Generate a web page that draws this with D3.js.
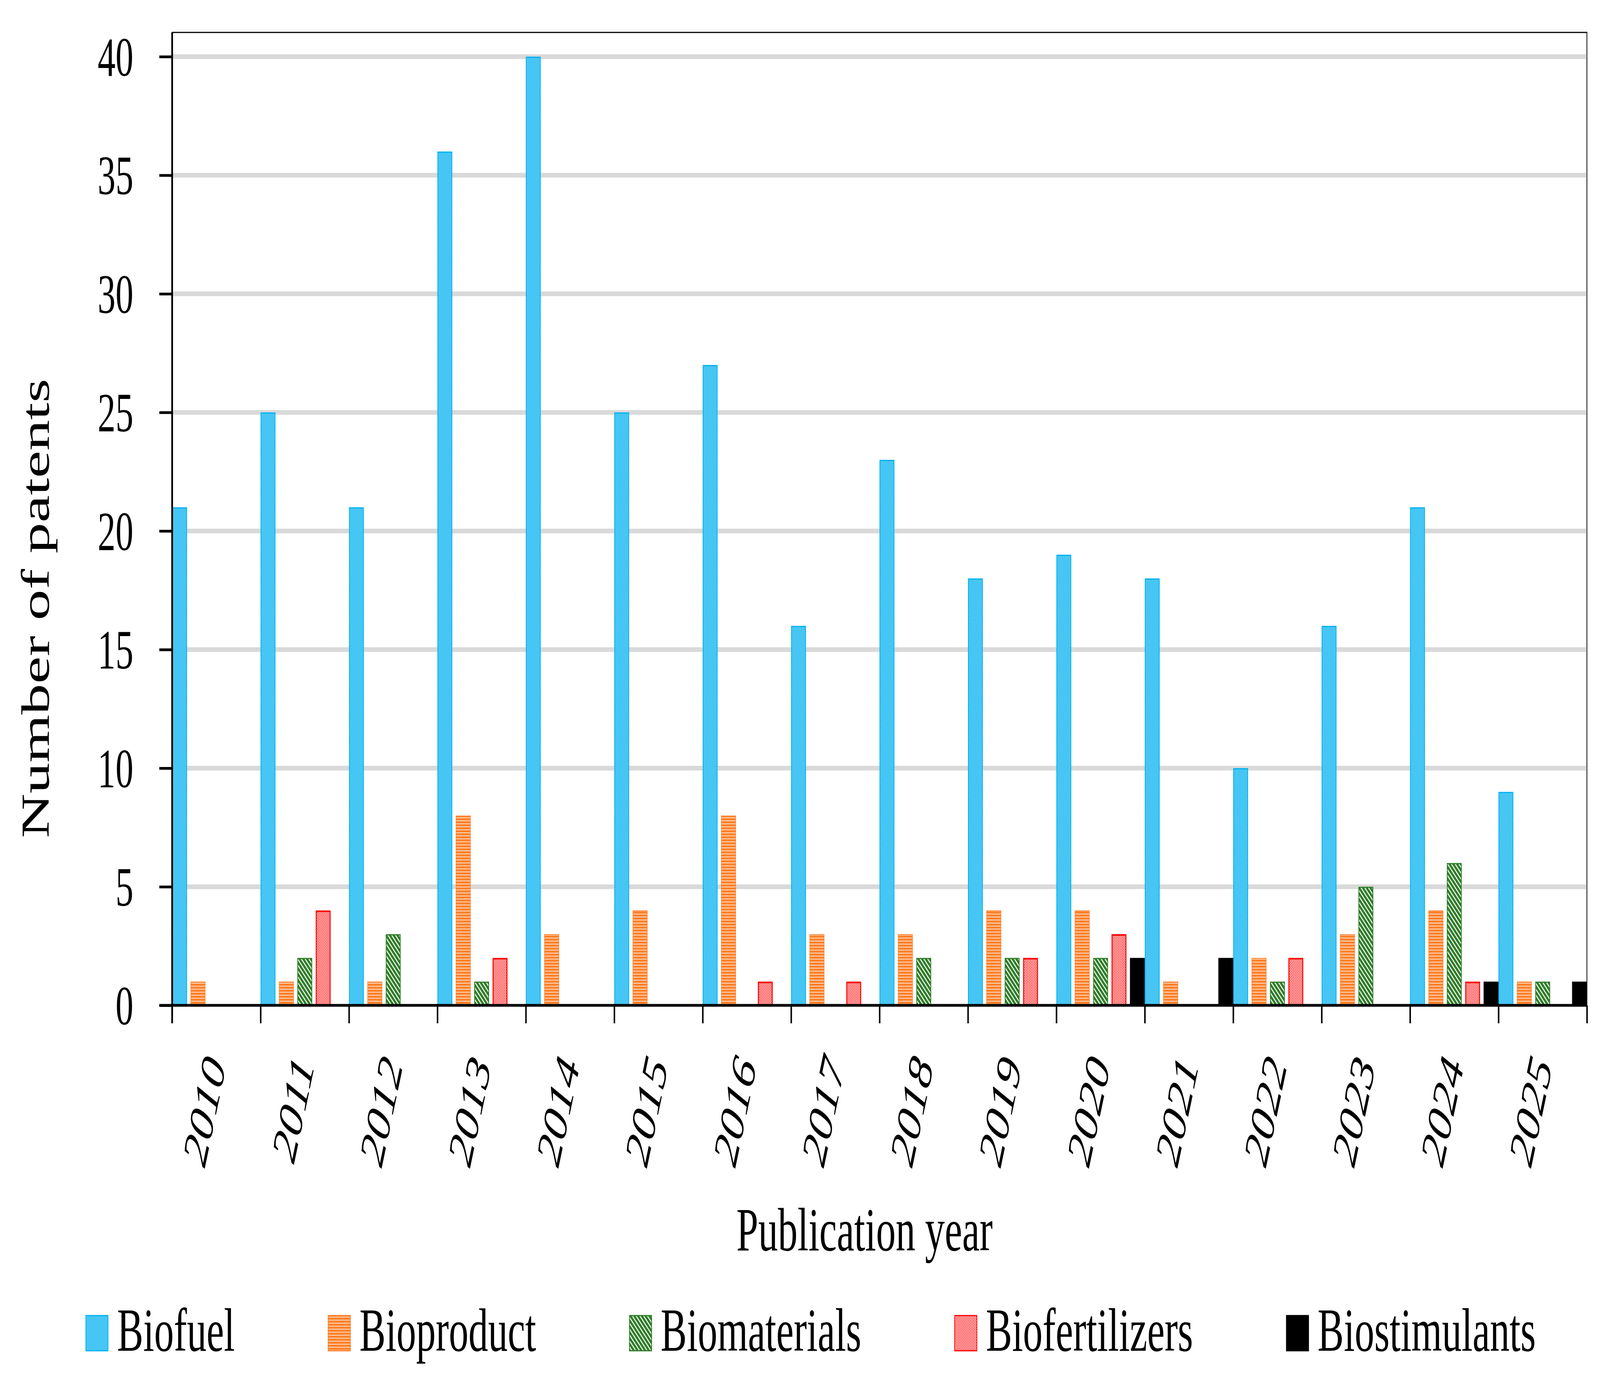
<!DOCTYPE html>
<html>
<head>
<meta charset="utf-8">
<script src="https://cdn.jsdelivr.net/npm/d3@7"></script>
<style>
  html, body { margin: 0; padding: 0; background: #fff; overflow: hidden; }
  svg { display: block; }
  text { font-family: "Liberation Serif", "Times New Roman", serif; fill: #000; }
</style>
</head>
<body>
<svg id="chart"></svg>
<script>
const years = ["2010","2011","2012","2013","2014","2015","2016","2017","2018","2019","2020","2021","2022","2023","2024","2025"];
const seriesNames = ["Biofuel","Bioproduct","Biomaterials","Biofertilizers","Biostimulants"];

const biofuel        = [21,25,21,36,40,25,27,16,23,18,19,18,10,16,21,9];
const bioproduct     = [1,1,1,8,3,4,8,3,3,4,4,1,2,3,4,1];
const biomaterials   = [0,2,3,1,0,0,0,0,2,2,2,0,1,5,6,1];
const biofertilizers = [0,4,0,2,0,0,1,1,0,2,3,0,2,0,1,0];
const biostimulants  = [0,0,0,0,0,0,0,0,0,0,2,2,0,0,1,1];

const yTicks = [0,5,10,15,20,25,30,35,40];

const W = 6357, H = 3537;
const plot = { left: 684, right: 6305, top: 83, bottom: 2573 };

// the window can be narrower than the chart, so draw in chart units and fit it
const svg = d3.select("#chart")
  .attr("viewBox", "0 0 " + W + " " + H)
  .attr("preserveAspectRatio", "none")
  .style("width", "100vw").style("height", "100vh");

// fill patterns, same idea as the office hatch fills
const defs = svg.append("defs");
function stripes(id, bg, fg, size, band, angle) {
  const p = defs.append("pattern").attr("id", id)
    .attr("patternUnits", "userSpaceOnUse")
    .attr("width", size).attr("height", size)
    .attr("patternTransform", "rotate(" + angle + ")");
  p.append("rect").attr("width", size).attr("height", size).attr("fill", bg);
  p.append("rect").attr("width", band).attr("height", size).attr("fill", fg);
}
stripes("p-biofuel", "#00b0f0", "#d8f3fd", 4.3, 1.4, 45);
stripes("p-biomat", "#2e7d27", "#ffffff", 10.6, 3.2, -45);

const pOr = defs.append("pattern").attr("id", "p-bioprod")
  .attr("patternUnits", "userSpaceOnUse").attr("width", 8).attr("height", 7.7);
pOr.append("rect").attr("width", 8).attr("height", 7.7).attr("fill", "#ff7f27");
pOr.append("rect").attr("y", 5.2).attr("width", 8).attr("height", 2).attr("fill", "#fde6d6");

// red lattice with white holes, reads pink from afar
const pRed = defs.append("pattern").attr("id", "p-biofert")
  .attr("patternUnits", "userSpaceOnUse").attr("width", 4.7).attr("height", 4.7)
  .attr("patternTransform", "rotate(45)");
pRed.append("rect").attr("width", 4.7).attr("height", 4.7).attr("fill", "#ff2a2a");
pRed.append("rect").attr("x", 0.8).attr("y", 0.8).attr("width", 3.1).attr("height", 3.1).attr("fill", "#ffffff");

const fills = {
  Biofuel: "url(#p-biofuel)", Bioproduct: "url(#p-bioprod)", Biomaterials: "url(#p-biomat)",
  Biofertilizers: "url(#p-biofert)", Biostimulants: "#000000"
};
const strokes = {
  Biofuel: "#00b0f0", Bioproduct: "#ff7f27", Biomaterials: "#2e7d27",
  Biofertilizers: "#ff0000", Biostimulants: "#000000"
};
const strokeW = { Biofuel: 3, Bioproduct: 2, Biomaterials: 3, Biofertilizers: 4, Biostimulants: 2 };

const values = {
  Biofuel: biofuel, Bioproduct: bioproduct, Biomaterials: biomaterials,
  Biofertilizers: biofertilizers, Biostimulants: biostimulants
};

// scales
const x0 = d3.scaleBand().domain(years).range([plot.left, plot.right]).paddingInner(0).paddingOuter(0);
const x1 = d3.scaleBand().domain(seriesNames).range([0, x0.bandwidth()]).paddingInner(0.192).paddingOuter(0);
const y = d3.scaleLinear().domain([0, 40]).range([plot.bottom, 145]);
const xIdx = d3.scaleLinear().domain([0, years.length]).range([plot.left, plot.right]);

// frame (thin top/right)
svg.append("rect")
  .attr("x", plot.left).attr("y", plot.top)
  .attr("width", plot.right - plot.left).attr("height", plot.bottom - plot.top)
  .attr("fill", "none").attr("stroke", "#000").attr("stroke-width", 3);

// gridlines
svg.append("g").selectAll("line")
  .data(yTicks.filter(function (t) { return t > 0; }))
  .join("line")
  .attr("x1", plot.left + 4).attr("x2", plot.right - 2)
  .attr("y1", function (t) { return y(t); })
  .attr("y2", function (t) { return y(t); })
  .attr("stroke", "#d9d9d9").attr("stroke-width", 12);

// bars: one flat list, one rect per non-zero value
const barData = [];
years.forEach(function (yr, i) {
  seriesNames.forEach(function (s) {
    if (values[s][i] > 0) barData.push({ year: yr, s: s, v: values[s][i] });
  });
});

svg.append("g").selectAll("rect")
  .data(barData)
  .join("rect")
  .attr("x", function (b) { return x0(b.year) + x1(b.s) + strokeW[b.s] / 2; })
  .attr("width", function (b) { return x1.bandwidth() - strokeW[b.s]; })
  .attr("y", function (b) { return y(b.v) + strokeW[b.s] / 2; })
  .attr("height", function (b) { return y(0) - y(b.v) - strokeW[b.s] / 2; })
  .attr("fill", function (b) { return fills[b.s]; })
  .attr("stroke", function (b) { return strokes[b.s]; })
  .attr("stroke-width", function (b) { return strokeW[b.s]; });

// y axis
const yAxis = svg.append("g")
  .attr("transform", "translate(" + plot.left + ",0)")
  .call(d3.axisLeft(y).tickValues(yTicks).tickSize(51).tickPadding(103).tickSizeOuter(0));
yAxis.select(".domain").remove();
yAxis.selectAll(".tick line").attr("stroke", "#000").attr("stroke-width", 7);
yAxis.selectAll(".tick text")
  .attr("font-family", "Liberation Serif").attr("font-size", 142).attr("dy", "0.34em");

// y axis line (runs down to the x tick length)
svg.append("line")
  .attr("x1", plot.left).attr("x2", plot.left)
  .attr("y1", plot.top).attr("y2", plot.bottom + 46)
  .attr("stroke", "#000").attr("stroke-width", 7);

// x axis tick marks on category boundaries
const xTicks = svg.append("g")
  .attr("transform", "translate(0," + plot.bottom + ")")
  .call(d3.axisBottom(xIdx).tickValues(d3.range(years.length + 1))
    .tickFormat(function () { return ""; }).tickSize(46).tickSizeOuter(0));
xTicks.select(".domain").remove();
xTicks.selectAll(".tick line").attr("stroke", "#000").attr("stroke-width", 6);

svg.append("line")
  .attr("x1", plot.left - 51).attr("x2", plot.right)
  .attr("y1", plot.bottom).attr("y2", plot.bottom)
  .attr("stroke", "#000").attr("stroke-width", 7);

// x labels, rotated
const xLab = svg.append("g")
  .attr("transform", "translate(0," + plot.bottom + ")")
  .call(d3.axisBottom(x0).tickSize(0));
xLab.select(".domain").remove();
xLab.selectAll(".tick text")
  .attr("font-family", "Liberation Serif").attr("font-style", "italic").attr("font-size", 140)
  .attr("x", 0).attr("y", 0).attr("dy", 0)
  .attr("text-anchor", "end")
  .attr("transform", "translate(40,152) rotate(-72)");

// axis titles
svg.append("text")
  .attr("transform", "translate(194,1557) rotate(-90)")
  .attr("text-anchor", "middle").attr("font-size", 158)
  .text("Number of patents");

svg.append("text")
  .attr("x", 3435).attr("y", 3200)
  .attr("text-anchor", "middle").attr("font-size", 156)
  .text("Publication year");

// legend
const legend = svg.append("g");
const legItems = legend.selectAll("g").data(seriesNames).join("g");
legItems.append("rect")
  .attr("x", 1).attr("y", 3367).attr("width", 88).attr("height", 90)
  .attr("fill", function (s) { return fills[s]; })
  .attr("stroke", function (s) { return strokes[s]; })
  .attr("stroke-width", 3);
legItems.append("text")
  .attr("x", 125).attr("y", 3457).attr("font-size", 156)
  .text(function (s) { return s; });
const legGap = 370;
let cx = 0;
legItems.each(function () {
  const g = d3.select(this);
  const tw = g.select("text").node().getComputedTextLength();
  g.attr("transform", "translate(" + cx + ",0)");
  cx += 125 + tw + legGap;
});
const legW = cx - legGap;
legend.attr("transform", "translate(" + (3221 - legW / 2) + ",0)");
</script>
</body>
</html>
